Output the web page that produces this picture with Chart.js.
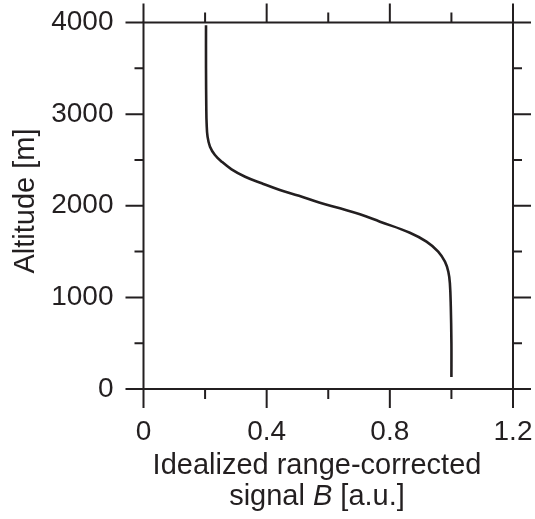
<!DOCTYPE html>
<html>
<head>
<meta charset="utf-8">
<script src="https://cdn.jsdelivr.net/npm/chart.js@4/dist/chart.umd.min.js"></script>
<style>
  html, body { margin: 0; padding: 0; background: #fff; }
  #wrap { position: relative; width: 535px; height: 519px; }
</style>
</head>
<body>
<div id="wrap"><canvas id="c"></canvas></div>
<script>
// ---- data ----
const altitude = [130, 500, 900, 1155, 1280, 1390, 1500, 1608, 1706, 1826, 1907, 1972, 2033, 2109, 2172, 2245, 2317, 2398, 2481, 2554, 2645, 2754, 2900, 3050, 3500, 3970];
const signal   = [1.0, 1.0, 0.998, 0.995, 0.99, 0.979, 0.957, 0.919, 0.865, 0.768, 0.703, 0.638, 0.573, 0.505, 0.443, 0.384, 0.33, 0.286, 0.254, 0.232, 0.216, 0.208, 0.205, 0.204, 0.203, 0.203];
const xMajorTicks = [0, 0.4, 0.8, 1.2];
const xMinorTicks = [0.2, 0.6, 1.0];
const yMajorTicks = [0, 1000, 2000, 3000, 4000];
const yMinorTicks = [500, 1500, 2500, 3500];
const xTitleLine1 = 'Idealized range-corrected';
const xTitleLine2 = ['signal ', 'B', ' [a.u.]'];
const yTitle = 'Altitude [m]';

const INK = '#231f20';
const FONT = '"Liberation Sans", Arial, Helvetica, sans-serif';

const points = altitude.map((a, i) => ({ x: signal[i], y: a }));

const frameTicks = {
  id: 'frameTicks',
  afterDraw(chart) {
    const { ctx, chartArea: ca, scales } = chart;
    const xs = scales.x, ys = scales.y;
    const MAJ = 18, MIN = 9;
    ctx.save();
    ctx.strokeStyle = INK;
    ctx.lineWidth = 2;
    ctx.lineCap = 'butt';
    ctx.strokeRect(ca.left, ca.top, ca.right - ca.left, ca.bottom - ca.top);
    ctx.beginPath();
    const yt = (v, len) => {
      const p = ys.getPixelForValue(v);
      ctx.moveTo(ca.left - len, p); ctx.lineTo(ca.left, p);
      ctx.moveTo(ca.right, p); ctx.lineTo(ca.right + len, p);
    };
    const xt = (v, len) => {
      const p = xs.getPixelForValue(v);
      ctx.moveTo(p, ca.bottom); ctx.lineTo(p, ca.bottom + len);
      ctx.moveTo(p, ca.top - len); ctx.lineTo(p, ca.top);
    };
    yMajorTicks.forEach(v => yt(v, MAJ));
    yMinorTicks.forEach(v => yt(v, MIN));
    xMajorTicks.forEach(v => xt(v, MAJ + 1));
    xMinorTicks.forEach(v => xt(v, MIN + 1));
    ctx.stroke();

    // axis titles
    ctx.fillStyle = INK;
    ctx.font = '29px ' + FONT;
    ctx.textBaseline = 'alphabetic';
    ctx.textAlign = 'center';
    const cx = 317;
    ctx.fillText(xTitleLine1, cx, 474);
    const fN = '29px ' + FONT, fI = 'italic 29px ' + FONT;
    const widths = xTitleLine2.map((s, i) => { ctx.font = i === 1 ? fI : fN; return ctx.measureText(s).width; });
    const total = widths.reduce((a, b) => a + b, 0);
    let x0 = cx - total / 2;
    ctx.textAlign = 'left';
    xTitleLine2.forEach((s, i) => { ctx.font = i === 1 ? fI : fN; ctx.fillText(s, x0, 505); x0 += widths[i]; });

    ctx.font = fN;
    ctx.textAlign = 'center';
    ctx.translate(34, 201);
    ctx.rotate(-Math.PI / 2);
    ctx.fillText(yTitle, 0, 0);
    ctx.restore();
  }
};

new Chart(document.getElementById('c'), {
  type: 'scatter',
  data: {
    datasets: [{
      data: points,
      showLine: true,
      borderColor: INK,
      borderWidth: 2.6,
      pointRadius: 0,
      tension: 0.4,
      fill: false
    }]
  },
  options: {
    responsive: true,
    maintainAspectRatio: false,
    animation: false,
    layout: { padding: { left: 0, right: 22, top: 22.5, bottom: 0 } },
    plugins: { legend: { display: false }, tooltip: { enabled: false } },
    scales: {
      x: {
        type: 'linear',
        min: 0, max: 1.2,
        grid: { display: false, drawTicks: false },
        border: { display: false },
        afterBuildTicks: s => { s.ticks = xMajorTicks.map(v => ({ value: v })); },
        afterFit: s => { s.height = 130; s.paddingLeft = 0; s.paddingRight = 0; },
        ticks: {
          padding: 26,
          maxRotation: 0,
          autoSkip: false,
          color: INK,
          font: { size: 28, family: FONT },
          callback: v => String(v)
        }
      },
      y: {
        type: 'linear',
        min: 0, max: 4000,
        grid: { display: false, drawTicks: false },
        border: { display: false },
        afterBuildTicks: s => { s.ticks = yMajorTicks.map(v => ({ value: v })); },
        afterFit: s => { s.width = 143.5; s.paddingTop = 0; s.paddingBottom = 0; },
        ticks: {
          padding: 30,
          autoSkip: false,
          color: INK,
          font: { size: 28, family: FONT },
          callback: v => String(v)
        }
      }
    }
  },
  plugins: [frameTicks]
});
</script>
</body>
</html>
